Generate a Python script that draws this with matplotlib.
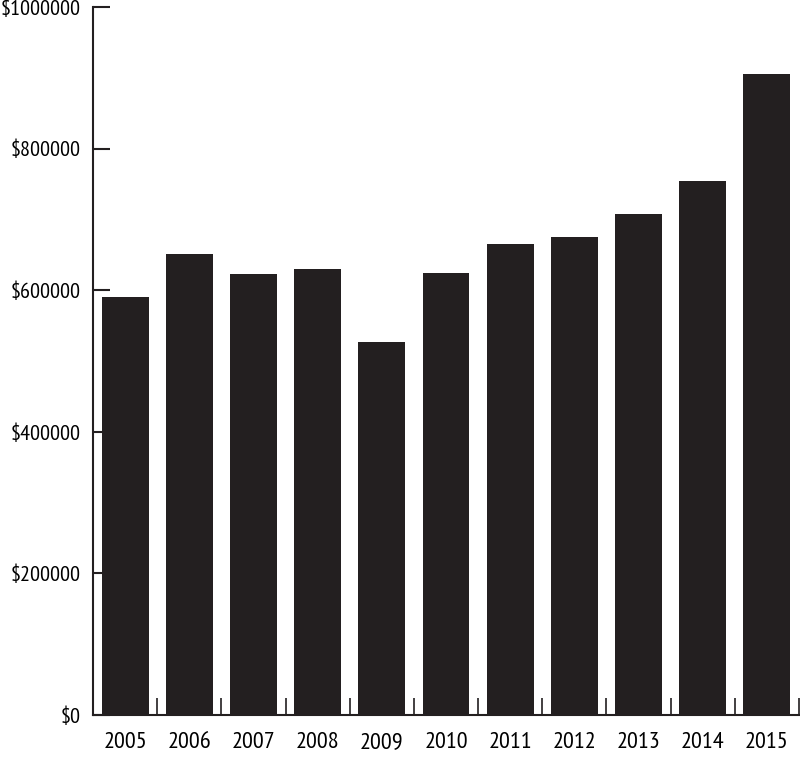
import matplotlib
matplotlib.use('Agg')
import matplotlib.pyplot as plt
import numpy as np

plt.rcParams['font.family'] = ['PT Sans Narrow', 'DejaVu Sans']

years = ['2005', '2006', '2007', '2008', '2009', '2010',
         '2011', '2012', '2013', '2014', '2015']
values = [590800, 651100, 622900, 629500, 526800, 624700,
          664800, 675600, 707200, 754700, 905000]
yticks = [0, 200000, 400000, 600000, 800000, 1000000]
ytick_labels = ['$0', '$200000', '$400000', '$600000', '$800000', '$1000000']

bar_color = '#231f20'
xFont = 17.5
yFont = 16

fig = plt.figure(figsize=(8, 7.61), dpi=100)
ax = fig.add_axes([93/800, 46/761, 706/800, 708/761])

x = np.arange(len(years))
ax.bar(x, values, width=0.73, color=bar_color)

ax.set_xlim(-0.5, len(years) - 0.5)
ax.set_ylim(0, 1000000)

ax.set_xticks(x)
ax.set_xticklabels(years, fontsize=xFont)
ax.set_xticks(list(x + 0.5), minor=True)
ax.tick_params(axis='x', which='major', length=0, pad=12)
ax.tick_params(axis='x', which='minor', length=12, width=1.2,
               direction='in', color='#231f20')

ax.set_yticks(yticks)
ax.set_yticklabels(ytick_labels, fontsize=yFont)
ax.tick_params(axis='y', length=12, width=1.5, direction='in',
               color='#231f20', pad=9)

for s in ['top', 'right']:
    ax.spines[s].set_visible(False)
for s in ['left', 'bottom']:
    ax.spines[s].set_linewidth(1.5)
    ax.spines[s].set_color('#231f20')

fig.savefig('out.png', dpi=100)
